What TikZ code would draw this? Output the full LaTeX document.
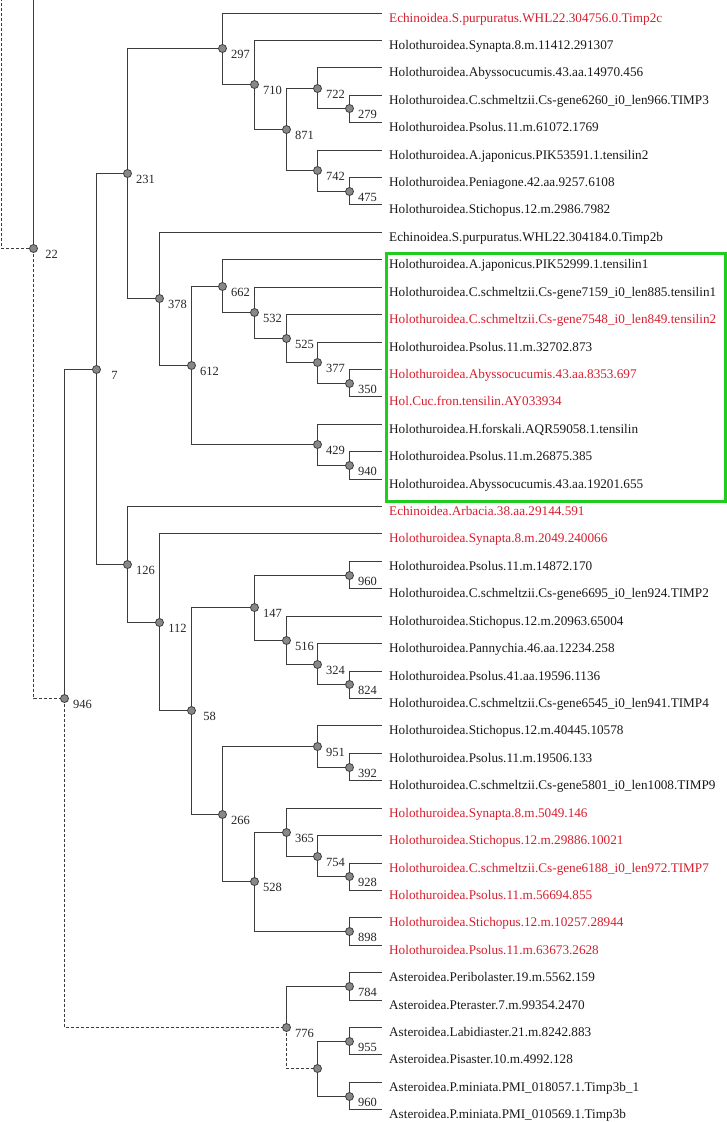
\documentclass[tikz,border=0pt]{standalone}
\usepackage{fontspec}
\setmainfont{Liberation Serif}
\usetikzlibrary{calc,backgrounds}
\definecolor{redtxt}{RGB}{214,30,46}
\definecolor{boxgreen}{RGB}{30,205,30}
\definecolor{edgecol}{RGB}{60,60,60}
\definecolor{dotfill}{RGB}{136,136,136}
\tikzset{
  br/.style={draw=edgecol, line width=1.5pt},
  dsh/.style={br, line width=1.3pt, dash pattern=on 3pt off 2pt},
  dot/.style={circle, draw=edgecol, fill=dotfill, line width=0.8pt, minimum size=8pt, inner sep=0pt},
  bs/.style={font=\fontsize{12.5}{14}\selectfont, inner sep=0pt, text=black!85},
  lab/.style={font=\fontsize{13.2}{15}\selectfont, anchor=base west, inner sep=0pt, text=black!90},
  redlab/.style={lab, text=redtxt},
}
\newcommand\leafnode[4]{\coordinate (L#1) at (381.5,#2);
  \node[#3] (T#1) at (389,{#2+8.5}) {#4};}
\newcommand\innode[3]{\node[dot] (n#1) at (#2,#3) {};}
\newcommand\bslabel[2]{\node[bs] (b#1) at ($(n#1)+(18,6)$) {#2};}
\begin{document}
\begin{tikzpicture}[x=1pt,y=-1pt]
\useasboundingbox (0,0) rectangle (727,1122);
% leaves
\leafnode{1}{13.5}{redlab}{Echinoidea.S.purpuratus.WHL22.304756.0.Timp2c}
\leafnode{2}{40.5}{lab}{Holothuroidea.Synapta.8.m.11412.291307}
\leafnode{3}{67.5}{lab}{Holothuroidea.Abyssocucumis.43.aa.14970.456}
\leafnode{4}{95.5}{lab}{Holothuroidea.C.schmeltzii.Cs-gene6260\_i0\_len966.TIMP3}
\leafnode{5}{122.5}{lab}{Holothuroidea.Psolus.11.m.61072.1769}
\leafnode{6}{150.5}{lab}{Holothuroidea.A.japonicus.PIK53591.1.tensilin2}
\leafnode{7}{177.5}{lab}{Holothuroidea.Peniagone.42.aa.9257.6108}
\leafnode{8}{204.5}{lab}{Holothuroidea.Stichopus.12.m.2986.7982}
\leafnode{9}{232.5}{lab}{Echinoidea.S.purpuratus.WHL22.304184.0.Timp2b}
\leafnode{10}{259.5}{lab}{Holothuroidea.A.japonicus.PIK52999.1.tensilin1}
\leafnode{11}{287.5}{lab}{Holothuroidea.C.schmeltzii.Cs-gene7159\_i0\_len885.tensilin1}
\leafnode{12}{314.5}{redlab}{Holothuroidea.C.schmeltzii.Cs-gene7548\_i0\_len849.tensilin2}
\leafnode{13}{342.5}{lab}{Holothuroidea.Psolus.11.m.32702.873}
\leafnode{14}{369.5}{redlab}{Holothuroidea.Abyssocucumis.43.aa.8353.697}
\leafnode{15}{396.5}{redlab}{Hol.Cuc.fron.tensilin.AY033934}
\leafnode{16}{424.5}{lab}{Holothuroidea.H.forskali.AQR59058.1.tensilin}
\leafnode{17}{451.5}{lab}{Holothuroidea.Psolus.11.m.26875.385}
\leafnode{18}{479.5}{lab}{Holothuroidea.Abyssocucumis.43.aa.19201.655}
\leafnode{19}{506.5}{redlab}{Echinoidea.Arbacia.38.aa.29144.591}
\leafnode{20}{533.5}{redlab}{Holothuroidea.Synapta.8.m.2049.240066}
\leafnode{21}{561.5}{lab}{Holothuroidea.Psolus.11.m.14872.170}
\leafnode{22}{588.5}{lab}{Holothuroidea.C.schmeltzii.Cs-gene6695\_i0\_len924.TIMP2}
\leafnode{23}{616.5}{lab}{Holothuroidea.Stichopus.12.m.20963.65004}
\leafnode{24}{643.5}{lab}{Holothuroidea.Pannychia.46.aa.12234.258}
\leafnode{25}{671.5}{lab}{Holothuroidea.Psolus.41.aa.19596.1136}
\leafnode{26}{698.5}{lab}{Holothuroidea.C.schmeltzii.Cs-gene6545\_i0\_len941.TIMP4}
\leafnode{27}{725.5}{lab}{Holothuroidea.Stichopus.12.m.40445.10578}
\leafnode{28}{753.5}{lab}{Holothuroidea.Psolus.11.m.19506.133}
\leafnode{29}{780.5}{lab}{Holothuroidea.C.schmeltzii.Cs-gene5801\_i0\_len1008.TIMP9}
\leafnode{30}{808.5}{redlab}{Holothuroidea.Synapta.8.m.5049.146}
\leafnode{31}{835.5}{redlab}{Holothuroidea.Stichopus.12.m.29886.10021}
\leafnode{32}{863.5}{redlab}{Holothuroidea.C.schmeltzii.Cs-gene6188\_i0\_len972.TIMP7}
\leafnode{33}{890.5}{redlab}{Holothuroidea.Psolus.11.m.56694.855}
\leafnode{34}{917.5}{redlab}{Holothuroidea.Stichopus.12.m.10257.28944}
\leafnode{35}{945.5}{redlab}{Holothuroidea.Psolus.11.m.63673.2628}
\leafnode{36}{972.5}{lab}{Asteroidea.Peribolaster.19.m.5562.159}
\leafnode{37}{1000.5}{lab}{Asteroidea.Pteraster.7.m.99354.2470}
\leafnode{38}{1027.5}{lab}{Asteroidea.Labidiaster.21.m.8242.883}
\leafnode{39}{1054.5}{lab}{Asteroidea.Pisaster.10.m.4992.128}
\leafnode{40}{1082.5}{lab}{Asteroidea.P.miniata.PMI\_018057.1.Timp3b\_1}
\leafnode{41}{1109.5}{lab}{Asteroidea.P.miniata.PMI\_010569.1.Timp3b}
% internal nodes
\coordinate (topA) at (33.5,0);
\coordinate (topB) at (1.5,0);
\innode{22}{33.5}{248.5}
\innode{946}{64.5}{698.5}
\innode{7}{96.5}{369.5}
\innode{231}{127.5}{173.5}
\innode{297}{222.5}{48.5}
\innode{710}{254.5}{84.5}
\innode{871}{286.5}{129.5}
\innode{722}{317.5}{88.5}
\innode{279}{349.5}{108.5}
\innode{742}{317.5}{170.5}
\innode{475}{349.5}{191.5}
\innode{378}{159.5}{298.5}
\innode{612}{191.5}{365.5}
\innode{662}{222.5}{286.5}
\innode{532}{254.5}{312.5}
\innode{525}{286.5}{338.5}
\innode{377}{317.5}{362.5}
\innode{350}{349.5}{383.5}
\innode{429}{317.5}{444.5}
\innode{940}{349.5}{465.5}
\innode{126}{127.5}{564.5}
\innode{112}{159.5}{622.5}
\innode{58}{191.5}{710.5}
\innode{147}{254.5}{607.5}
\innode{960a}{349.5}{575.5}
\innode{516}{286.5}{640.5}
\innode{324}{317.5}{664.5}
\innode{824}{349.5}{684.5}
\innode{266}{222.5}{814.5}
\innode{951}{317.5}{746.5}
\innode{392}{349.5}{767.5}
\innode{528}{254.5}{881.5}
\innode{365}{286.5}{832.5}
\innode{754}{317.5}{856.5}
\innode{928}{349.5}{876.5}
\innode{898}{349.5}{931.5}
\innode{776}{286.5}{1027.5}
\innode{784}{349.5}{986.5}
\innode{u}{317.5}{1068.5}
\innode{955}{349.5}{1041.5}
\innode{960b}{349.5}{1096.5}
% branches, behind the dots
\begin{pgfonlayer}{background}
\draw[br] (n22.center) -- (topA);
\draw[dsh] (n22.center) -| (topB);
\draw[dsh] (n22.center) |- (n946.center);
\draw[br] (n946.center) |- (n7.center);
\draw[dsh] (n946.center) |- (n776.center);
\draw[br] (n7.center) |- (n231.center);
\draw[br] (n7.center) |- (n126.center);
\draw[br] (n231.center) |- (n297.center);
\draw[br] (n231.center) |- (n378.center);
\draw[br] (n297.center) |- (L1);
\draw[br] (n297.center) |- (n710.center);
\draw[br] (n710.center) |- (L2);
\draw[br] (n710.center) |- (n871.center);
\draw[br] (n871.center) |- (n722.center);
\draw[br] (n871.center) |- (n742.center);
\draw[br] (n722.center) |- (L3);
\draw[br] (n722.center) |- (n279.center);
\draw[br] (n279.center) |- (L4);
\draw[br] (n279.center) |- (L5);
\draw[br] (n742.center) |- (L6);
\draw[br] (n742.center) |- (n475.center);
\draw[br] (n475.center) |- (L7);
\draw[br] (n475.center) |- (L8);
\draw[br] (n378.center) |- (L9);
\draw[br] (n378.center) |- (n612.center);
\draw[br] (n612.center) |- (n662.center);
\draw[br] (n612.center) |- (n429.center);
\draw[br] (n662.center) |- (L10);
\draw[br] (n662.center) |- (n532.center);
\draw[br] (n532.center) |- (L11);
\draw[br] (n532.center) |- (n525.center);
\draw[br] (n525.center) |- (L12);
\draw[br] (n525.center) |- (n377.center);
\draw[br] (n377.center) |- (L13);
\draw[br] (n377.center) |- (n350.center);
\draw[br] (n350.center) |- (L14);
\draw[br] (n350.center) |- (L15);
\draw[br] (n429.center) |- (L16);
\draw[br] (n429.center) |- (n940.center);
\draw[br] (n940.center) |- (L17);
\draw[br] (n940.center) |- (L18);
\draw[br] (n126.center) |- (L19);
\draw[br] (n126.center) |- (n112.center);
\draw[br] (n112.center) |- (L20);
\draw[br] (n112.center) |- (n58.center);
\draw[br] (n58.center) |- (n147.center);
\draw[br] (n58.center) |- (n266.center);
\draw[br] (n147.center) |- (n960a.center);
\draw[br] (n147.center) |- (n516.center);
\draw[br] (n960a.center) |- (L21);
\draw[br] (n960a.center) |- (L22);
\draw[br] (n516.center) |- (L23);
\draw[br] (n516.center) |- (n324.center);
\draw[br] (n324.center) |- (L24);
\draw[br] (n324.center) |- (n824.center);
\draw[br] (n824.center) |- (L25);
\draw[br] (n824.center) |- (L26);
\draw[br] (n266.center) |- (n951.center);
\draw[br] (n266.center) |- (n528.center);
\draw[br] (n951.center) |- (L27);
\draw[br] (n951.center) |- (n392.center);
\draw[br] (n392.center) |- (L28);
\draw[br] (n392.center) |- (L29);
\draw[br] (n528.center) |- (n365.center);
\draw[br] (n528.center) |- (n898.center);
\draw[br] (n365.center) |- (L30);
\draw[br] (n365.center) |- (n754.center);
\draw[br] (n754.center) |- (L31);
\draw[br] (n754.center) |- (n928.center);
\draw[br] (n928.center) |- (L32);
\draw[br] (n928.center) |- (L33);
\draw[br] (n898.center) |- (L34);
\draw[br] (n898.center) |- (L35);
\draw[br] (n776.center) |- (n784.center);
\draw[dsh] (n776.center) |- (nu.center);
\draw[br] (n784.center) |- (L36);
\draw[br] (n784.center) |- (L37);
\draw[br] (nu.center) |- (n955.center);
\draw[br] (nu.center) |- (n960b.center);
\draw[br] (n955.center) |- (L38);
\draw[br] (n955.center) |- (L39);
\draw[br] (n960b.center) |- (L40);
\draw[br] (n960b.center) |- (L41);
\end{pgfonlayer}
% bootstrap labels
\bslabel{22}{22}
\bslabel{946}{946}
\bslabel{7}{7}
\bslabel{231}{231}
\bslabel{297}{297}
\bslabel{710}{710}
\bslabel{871}{871}
\bslabel{722}{722}
\bslabel{279}{279}
\bslabel{742}{742}
\bslabel{475}{475}
\bslabel{378}{378}
\bslabel{612}{612}
\bslabel{662}{662}
\bslabel{532}{532}
\bslabel{525}{525}
\bslabel{377}{377}
\bslabel{350}{350}
\bslabel{429}{429}
\bslabel{940}{940}
\bslabel{126}{126}
\bslabel{112}{112}
\bslabel{58}{58}
\bslabel{147}{147}
\bslabel{960a}{960}
\bslabel{516}{516}
\bslabel{324}{324}
\bslabel{824}{824}
\bslabel{266}{266}
\bslabel{951}{951}
\bslabel{392}{392}
\bslabel{528}{528}
\bslabel{365}{365}
\bslabel{754}{754}
\bslabel{928}{928}
\bslabel{898}{898}
\bslabel{776}{776}
\bslabel{784}{784}
\bslabel{955}{955}
\bslabel{960b}{960}
% highlight box
\draw[draw=boxgreen, line width=3pt] (386.5,253) rectangle (725,501.5);
\end{tikzpicture}
\end{document}
